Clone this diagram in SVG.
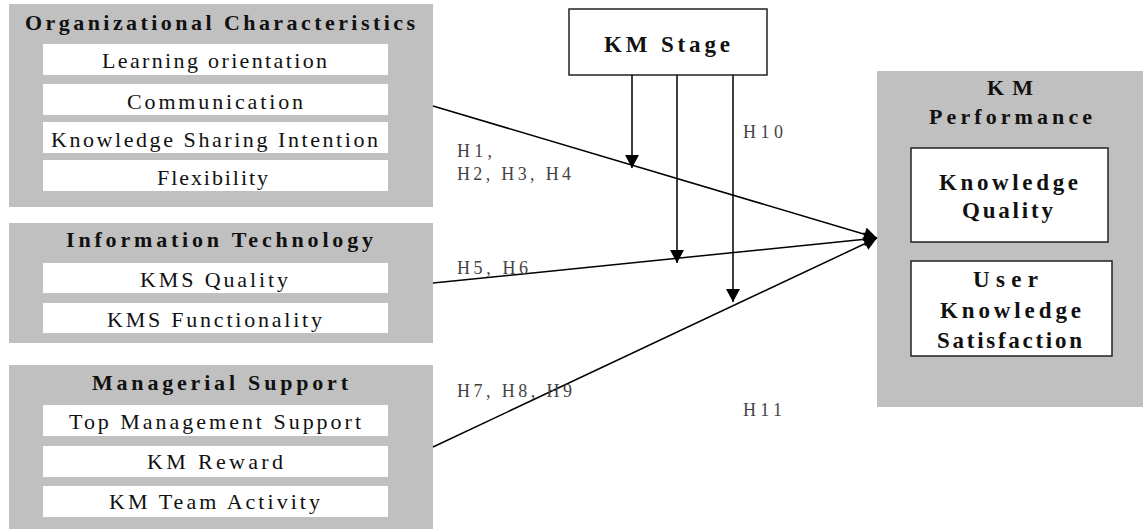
<svg xmlns="http://www.w3.org/2000/svg" width="1143" height="529" viewBox="0 0 1143 529">
<style>
.panel{fill:#c0c0c0;stroke:none}
.item{fill:#ffffff;stroke:none}
.box{fill:#ffffff;stroke:#222222;stroke-width:1.5}
.t{font-family:"Liberation Serif","Times New Roman",serif;font-size:22px;fill:#111111}
.b{font-family:"Liberation Serif","Times New Roman",serif;font-size:22px;font-weight:bold;fill:#111111}
.s{font-size:23px}
.h{font-family:"Liberation Serif","Times New Roman",serif;font-size:18px;fill:#444444}
.c{stroke:#000000;stroke-width:1.5;fill:none}
</style>
<defs>
<marker id="arr" markerUnits="userSpaceOnUse" markerWidth="14" markerHeight="14" viewBox="0 0 12 13" refX="12" refY="6.5" orient="auto">
<path d="M0,0 L12,6.5 L0,13 z" fill="#000000"/>
</marker>
</defs>
<g id="org">
<rect class="panel" x="9" y="4" width="424" height="203"/>
<text class="b" x="25" y="30" textLength="390" lengthAdjust="spacing">Organizational Characteristics</text>
<rect class="item" x="43" y="44" width="345" height="31"/>
<text class="t" x="102" y="68" textLength="225" lengthAdjust="spacing">Learning orientation</text>
<rect class="item" x="43" y="84" width="345" height="31"/>
<text class="t" x="127" y="109" textLength="176" lengthAdjust="spacing">Communication</text>
<rect class="item" x="43" y="122" width="345" height="31"/>
<text class="t" x="51" y="147" textLength="327" lengthAdjust="spacing">Knowledge Sharing Intention</text>
<rect class="item" x="43" y="160" width="345" height="31"/>
<text class="t" x="157" y="185" textLength="111" lengthAdjust="spacing">Flexibility</text>
</g>
<g id="it">
<rect class="panel" x="9" y="223" width="424" height="120"/>
<text class="b" x="66" y="247" textLength="307" lengthAdjust="spacing">Information Technology</text>
<rect class="item" x="43" y="263" width="345" height="30"/>
<text class="t" x="140" y="287" textLength="148" lengthAdjust="spacing">KMS Quality</text>
<rect class="item" x="43" y="303" width="345" height="30"/>
<text class="t" x="107" y="327" textLength="215" lengthAdjust="spacing">KMS Functionality</text>
</g>
<g id="ms">
<rect class="panel" x="9" y="365" width="424" height="164"/>
<text class="b" x="92" y="390" textLength="256" lengthAdjust="spacing">Managerial Support</text>
<rect class="item" x="43" y="405" width="345" height="31"/>
<text class="t" x="69" y="429" textLength="292" lengthAdjust="spacing">Top Management Support</text>
<rect class="item" x="43" y="446" width="345" height="31"/>
<text class="t" x="147" y="469" textLength="136" lengthAdjust="spacing">KM Reward</text>
<rect class="item" x="43" y="486" width="345" height="31"/>
<text class="t" x="109" y="509" textLength="211" lengthAdjust="spacing">KM Team Activity</text>
</g>
<g id="stage">
<rect class="box" x="569" y="9" width="198" height="66"/>
<text class="b s" x="604" y="52" textLength="126" lengthAdjust="spacing">KM Stage</text>
</g>
<g id="perf">
<rect class="panel" x="877" y="71" width="266" height="336"/>
<text class="b" x="987" y="95" textLength="46" lengthAdjust="spacing">KM</text>
<text class="b" x="929" y="124" textLength="163" lengthAdjust="spacing">Performance</text>
<rect class="box" x="911" y="148" width="197" height="94"/>
<text class="b s" x="939" y="190" textLength="139" lengthAdjust="spacing">Knowledge</text>
<text class="b s" x="962" y="218" textLength="91" lengthAdjust="spacing">Quality</text>
<rect class="box" x="911" y="261" width="201" height="95"/>
<text class="b s" x="973" y="287" textLength="65" lengthAdjust="spacing">User</text>
<text class="b s" x="940" y="318" textLength="141" lengthAdjust="spacing">Knowledge</text>
<text class="b s" x="937" y="348" textLength="145" lengthAdjust="spacing">Satisfaction</text>
</g>
<g id="connectors">
<line class="c" x1="433" y1="106" x2="877" y2="238" marker-end="url(#arr)"/>
<line class="c" x1="433" y1="283" x2="877" y2="238" marker-end="url(#arr)"/>
<line class="c" x1="433" y1="447" x2="877" y2="238" marker-end="url(#arr)"/>
<line class="c" x1="632" y1="75" x2="632" y2="168" marker-end="url(#arr)"/>
<line class="c" x1="677" y1="75" x2="677" y2="263" marker-end="url(#arr)"/>
<line class="c" x1="733" y1="75" x2="733" y2="302" marker-end="url(#arr)"/>
</g>
<g id="labels">
<text class="h" x="457" y="157" textLength="35" lengthAdjust="spacing">H1,</text>
<text class="h" x="457" y="180" textLength="114" lengthAdjust="spacing">H2, H3, H4</text>
<text class="h" x="743" y="138" textLength="40" lengthAdjust="spacing">H10</text>
<text class="h" x="457" y="274" textLength="71" lengthAdjust="spacing">H5, H6</text>
<text class="h" x="457" y="397" textLength="115" lengthAdjust="spacing">H7, H8, H9</text>
<text class="h" x="743" y="416" textLength="39" lengthAdjust="spacing">H11</text>
</g>
</svg>
